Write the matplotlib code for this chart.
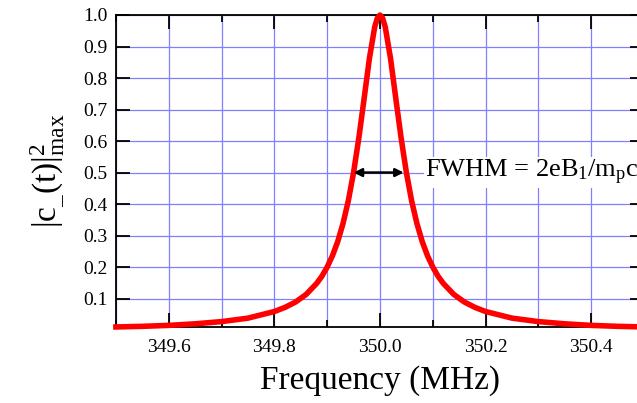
import numpy as np
import matplotlib.pyplot as plt
from matplotlib.ticker import MultipleLocator

# values
freq = [349.50, 349.55, 349.60, 349.65, 349.70, 349.75, 349.80, 349.82, 349.84,
        349.86, 349.88, 349.89, 349.90, 349.91, 349.92, 349.93, 349.94, 349.95,
        349.96, 349.97, 349.98, 349.99, 349.995, 350.00, 350.005, 350.01, 350.02,
        350.03, 350.04, 350.05, 350.06, 350.07, 350.08, 350.09, 350.10, 350.11,
        350.12, 350.14, 350.16, 350.18, 350.20, 350.25, 350.30, 350.35, 350.40,
        350.45, 350.50]
power = [0.010, 0.012, 0.015, 0.020, 0.027, 0.038, 0.059, 0.072, 0.089,
         0.113, 0.148, 0.171, 0.200, 0.236, 0.281, 0.338, 0.410, 0.500,
         0.610, 0.735, 0.862, 0.962, 0.990, 1.000, 0.990, 0.962, 0.862,
         0.735, 0.610, 0.500, 0.410, 0.338, 0.281, 0.236, 0.200, 0.171,
         0.148, 0.113, 0.089, 0.072, 0.059, 0.038, 0.027, 0.020, 0.015,
         0.012, 0.010]

plt.rcParams['font.family'] = ['Liberation Serif', 'DejaVu Serif']
plt.rcParams['mathtext.fontset'] = 'custom'
plt.rcParams['mathtext.rm'] = 'Liberation Serif'
plt.rcParams['mathtext.it'] = 'Liberation Serif:italic'

fig = plt.figure(figsize=(6.37, 4.03), dpi=100)
ax = fig.add_axes([0.182, 0.1886, 0.829, 0.7742])

ax.plot(freq, power, color='red', lw=4, zorder=5, clip_on=False, solid_joinstyle='round')

ax.set_xlim(349.5, 350.5)
ax.set_ylim(0.0099, 1.0)
ax.xaxis.set_minor_locator(MultipleLocator(0.1))
ax.set_xticks([349.6, 349.8, 350.0, 350.2, 350.4])
ax.set_xticklabels(['349.6', '349.8', '350.0', '350.2', '350.4'])
ax.set_yticks(np.arange(1, 11) / 10)
ax.set_yticklabels(['%.1f' % v for v in np.arange(1, 11) / 10])

ax.grid(True, which='both', color='#8080ff', lw=0.9)
ax.set_axisbelow(True)
ax.tick_params(which='both', direction='in', top=True, right=True, width=1.3)
ax.tick_params(which='major', length=10)
ax.tick_params(which='minor', length=5)
ax.tick_params(axis='x', labelsize=14, pad=9)
ax.tick_params(axis='y', labelsize=14, pad=6)
for s in ax.spines.values():
    s.set_linewidth(1.3)

ax.set_xlabel('Frequency (MHz)', fontsize=24, labelpad=6)
ax.set_ylabel('|c$_{\\_}$(t)|$^{2}_{\\mathrm{max}}$', fontsize=24, labelpad=12)

ax.annotate('', xy=(349.95, 0.5), xytext=(350.045, 0.5),
            arrowprops=dict(arrowstyle='<|-|>', color='black', lw=1.8,
                            mutation_scale=12, shrinkA=0, shrinkB=0), zorder=6)
ax.text(350.085, 0.5, 'FWHM = 2eB$_{\\mathrm{1}}$/m$_{\\mathrm{p}}$c', fontsize=19,
        va='center', ha='left',
        bbox=dict(facecolor='white', edgecolor='none', pad=1), zorder=4)

fig.savefig('out.png', dpi=100)
